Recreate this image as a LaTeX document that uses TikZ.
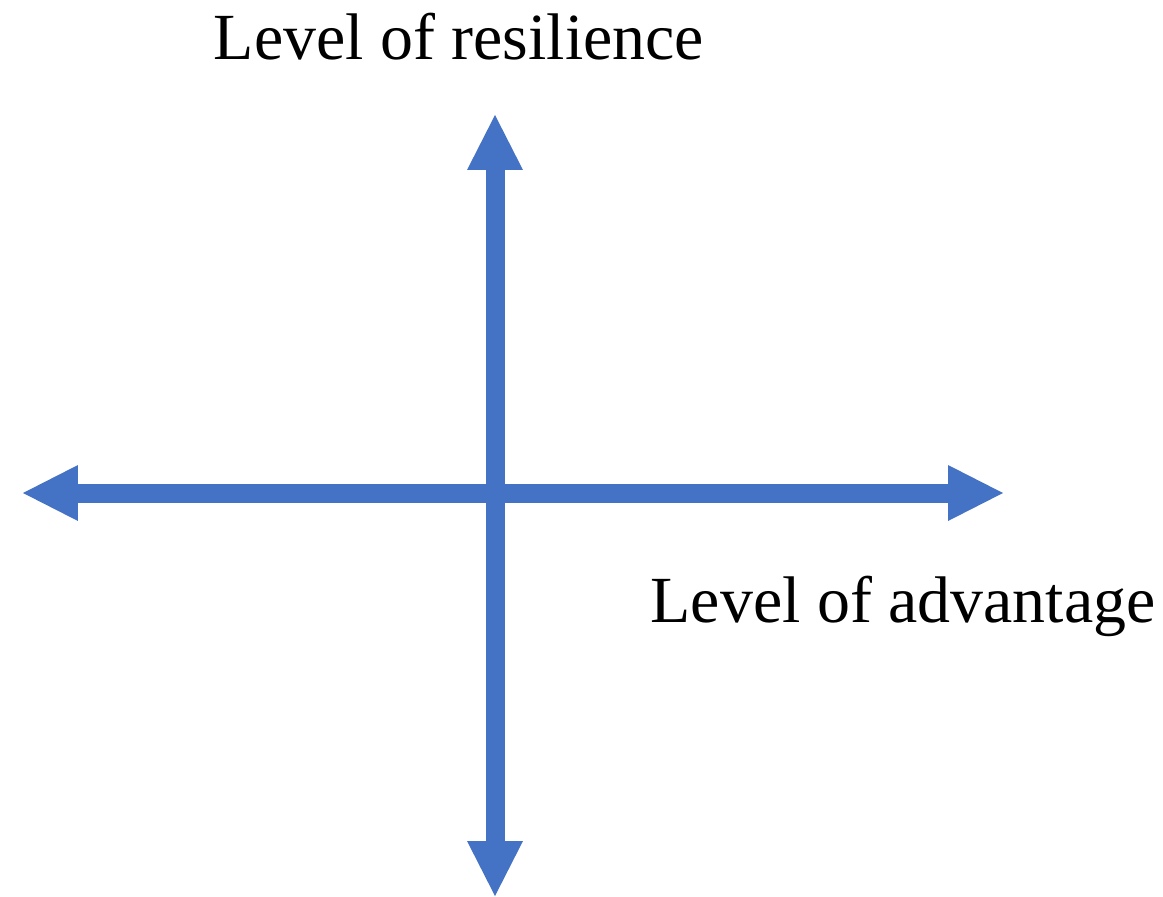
\documentclass[tikz,border=0pt]{standalone}
\usepackage{fontspec}
\setmainfont{Liberation Serif}
\usepackage{tikz}
\usetikzlibrary{positioning, calc, arrows.meta}
\definecolor{axisblue}{HTML}{4472C4}

\begin{document}
\begin{tikzpicture}[x=0.02cm, y=-0.02cm,
    axisline/.style={line width=19*0.02cm, draw=axisblue,
        {Triangle[length=1.1cm, width=1.12cm, line width=0pt]}-{Triangle[length=1.1cm, width=1.12cm, line width=0pt]}},
    axislabel/.style={font=\fontsize{37.5}{45}\selectfont, inner sep=0pt, anchor=base}]
    \useasboundingbox (0,0) rectangle (1163,896);

    % End points of the axes
    \coordinate (left) at (23,493);
    \coordinate (right) at (1003,493);
    \coordinate (top) at (495,115);
    \coordinate (bottom) at (495,896);

    % Draw axes
    \draw[axisline] (left) -- (right);
    \draw[axisline] (bottom) -- (top);

    % Labels
    \node[axislabel] (resilience) at (459,59) {Level of resilience};
    \node[axislabel] (advantage) at (903,622) {Level of advantage};
\end{tikzpicture}
\end{document}
